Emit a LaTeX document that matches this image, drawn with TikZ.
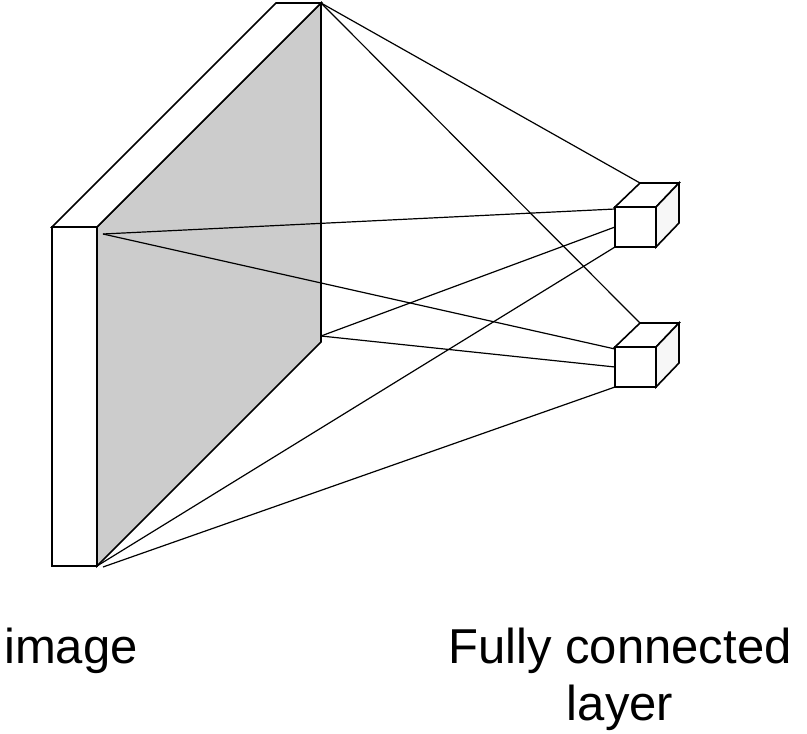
\documentclass[tikz,border=0pt]{standalone}
\usepackage{fontspec}
\setmainfont{Liberation Sans}
\usetikzlibrary{positioning}

\begin{document}
\begin{tikzpicture}[x=1pt, y=-1pt,
    % Define common styles
        outline/.style={draw=black, line width=1.6pt, line join=miter},
        frontface/.style={outline, fill=white},
        grayface/.style={outline, fill=black!20},
        sideface/.style={outline, fill=black!3},
        link/.style={draw=black, line width=1.2pt},
        caption/.style={font=\fontsize{49}{57}\selectfont, align=center, inner sep=0pt, anchor=base}
    ]
        \useasboundingbox (0,0) rectangle (807,734);

        % Corners of the input slab
        \coordinate (slabFL) at (52,227);
        \coordinate (slabFR) at (97,227);
        \coordinate (slabBL) at (52,566);
        \coordinate (slabBR) at (97,566);
        \coordinate (apex) at (321,3);
        \coordinate (backBot) at (321,342);

        % Input slab: side, top and front faces
        \filldraw[grayface] (slabFR) -- (apex) -- (backBot) -- (slabBR) -- cycle;
        \filldraw[frontface] (slabFL) -- (slabFR) -- (apex) -- (276,3) -- cycle;
        \filldraw[frontface] (slabFL) rectangle (slabBR);

        % Points on the slab where the connections start
        \coordinate (srcA) at (103,234);
        \coordinate (srcB) at (321,336);
        \coordinate (srcC) at (97,566);
        \coordinate (srcD) at (103,567);

        % Corners of the two output units
        \coordinate (oneTop) at (640,183);
        \coordinate (oneA) at (615,209);
        \coordinate (oneB) at (615,227);
        \coordinate (oneC) at (615,247);
        \coordinate (twoTop) at (640,323);
        \coordinate (twoA) at (615,349);
        \coordinate (twoB) at (615,367);
        \coordinate (twoC) at (615,387);

        % Fully connected lines
        \draw[link] (apex) -- (oneTop);
        \draw[link] (apex) -- (twoTop);
        \draw[link] (srcA) -- (oneA);
        \draw[link] (srcA) -- (twoA);
        \draw[link] (srcB) -- (oneB);
        \draw[link] (srcB) -- (twoB);
        \draw[link] (srcC) -- (oneC);
        \draw[link] (srcD) -- (twoC);

        % Upper unit
        \filldraw[frontface] (615,207) -- (640,183) -- (679,183) -- (656,207) -- cycle;
        \filldraw[sideface] (656,207) -- (679,183) -- (679,223) -- (656,247) -- cycle;
        \filldraw[frontface] (615,207) rectangle (656,247);

        % Lower unit
        \filldraw[frontface] (615,347) -- (640,323) -- (679,323) -- (656,347) -- cycle;
        \filldraw[sideface] (656,347) -- (679,323) -- (679,363) -- (656,387) -- cycle;
        \filldraw[frontface] (615,347) rectangle (656,387);

        % Captions
        \node[caption] (imageText) at (71,663) {image};
        \node[caption] (fcText) at (620,720) {Fully connected\\layer};

    \end{tikzpicture}
\end{document}
